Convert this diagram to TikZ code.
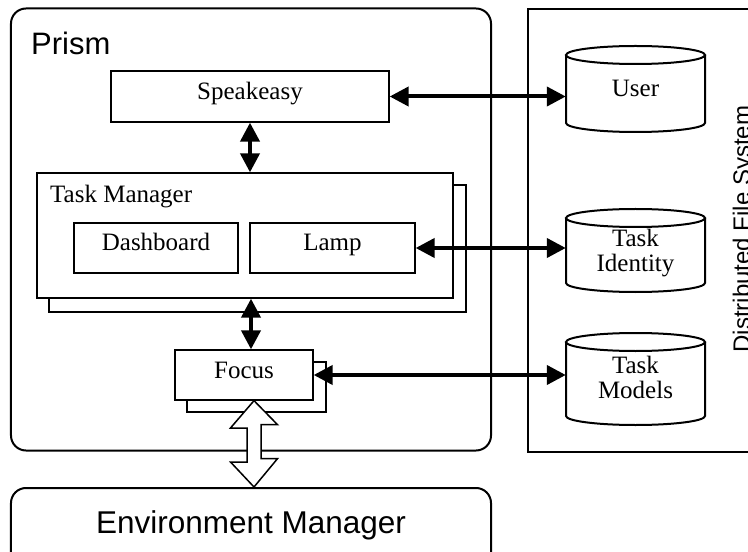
\documentclass[tikz,border=0pt]{standalone}
\usepackage{fontspec}
\setmainfont{Liberation Serif}
\newfontfamily\sansf{Liberation Sans}
\usetikzlibrary{arrows.meta}
\begin{document}
\begin{tikzpicture}[x=1bp,y=-1bp,
  serif/.style={font=\fontsize{25bp}{25bp}\selectfont},
  sanslbl/.style={font=\sansf\fontsize{31bp}{32bp}\selectfont, inner sep=0pt},
  box/.style={draw, line width=1.3bp, fill=white, inner sep=0pt, serif,
    text height=16bp, text depth=10bp},
  shadowbox/.style={draw, line width=1.3bp, fill=white},
  frame/.style={draw, line width=2bp, rounded corners=15bp, inner sep=0pt},
  dbtext/.style={inner sep=0pt, serif, align=center, minimum width=139bp,
    text height=16bp, text depth=8bp},
  dbtwo/.style={dbtext, text height=41bp},
  cyl/.style={draw, line width=2bp, fill=white},
  link/.style={line width=4bp,
    {Triangle[length=19bp,width=19bp]}-{Triangle[length=19bp,width=19bp]}},
  hollow/.style={draw, line width=1.5bp, fill=white, line join=miter}
]
\useasboundingbox (0,0) rectangle (748,552);

% outer frames
\node[frame, minimum width=480bp, minimum height=442bp] (prism) at (251,229.5) {};
\node[sanslbl, anchor=base west] (prismlbl) at (31,55) {Prism};
\node[frame, minimum width=480bp, minimum height=96bp] (env) at (251,536) {};
\node[sanslbl, anchor=base, font=\sansf\fontsize{31.5bp}{32bp}\selectfont] (envlbl) at (251,533) {Environment Manager};
\node[draw, line width=1.7bp, inner sep=0pt, minimum width=242bp, minimum height=443bp] (dfs) at (649,230.5) {};
\node[inner sep=0pt, anchor=base, rotate=90, font=\sansf\fontsize{24bp}{26bp}\selectfont] (dfslbl) at (750,229) {Distributed File System};

% Speakeasy
\node[box, minimum width=278bp, minimum height=51bp] (speak) at (250,96.5) {Speakeasy};

% Task Manager with its stacked copy
\draw[shadowbox] (49,185) rectangle (466,312);
\node[box, minimum width=416bp, minimum height=125bp] (tm) at (245,235.5) {};
\node[inner sep=0pt, serif, anchor=base west] (tmlbl) at (50,203) {Task Manager};
\node[box, minimum width=164bp, minimum height=50bp] (dash) at (156,248) {Dashboard};
\node[box, minimum width=165bp, minimum height=50bp] (lamp) at (332.5,248) {Lamp};

% Focus with its stacked copy
\draw[shadowbox] (187,362) rectangle (326,412);
\node[box, minimum width=138bp, minimum height=50bp] (focus) at (244,375) {Focus};

% data stores
\draw[cyl] (566,55) -- (566,123) arc[start angle=180, end angle=360, x radius=69.5bp, y radius=9bp] -- (705,55);
\draw[cyl] (635.5,55) ellipse [x radius=69.5bp, y radius=9bp];
\draw[cyl] (566,218) -- (566,283) arc[start angle=180, end angle=360, x radius=69.5bp, y radius=9bp] -- (705,218);
\draw[cyl] (635.5,218) ellipse [x radius=69.5bp, y radius=9bp];
\draw[cyl] (566,342) -- (566,416) arc[start angle=180, end angle=360, x radius=69.5bp, y radius=9bp] -- (705,342);
\draw[cyl] (635.5,342) ellipse [x radius=69.5bp, y radius=9bp];
\node[dbtext] (user) at (635.5,93) {User};
\node[dbtwo] (tid) at (635.5,255) {Task\\Identity};
\node[dbtwo] (tmod) at (635.5,382) {Task\\Models};

% connectors
\draw[link] (speak.east) -- (speak.east -| user.west);
\draw[link] (lamp.east) -- (lamp.east -| tid.west);
\draw[link] (focus.east) -- (focus.east -| tmod.west);
\draw[link] (speak.south) -- (speak.south |- tm.north);
\draw[link] ([xshift=6bp]tm.south) -- ([xshift=6bp]tm.south |- focus.north);

% hollow double arrow between Focus and the Environment Manager
\coordinate (ha) at ([xshift=10bp]focus.south);
\coordinate (hb) at (ha |- env.north);
\draw[hollow] (ha) -- ++(23.5,24) -- ++(-16.5,0) -- ++(0,34) -- ++(16.5,0)
  -- (hb) -- ++(-23.5,-25) -- ++(16.5,0) -- ++(0,-34) -- ++(-16.5,0) -- cycle;
\end{tikzpicture}
\end{document}
